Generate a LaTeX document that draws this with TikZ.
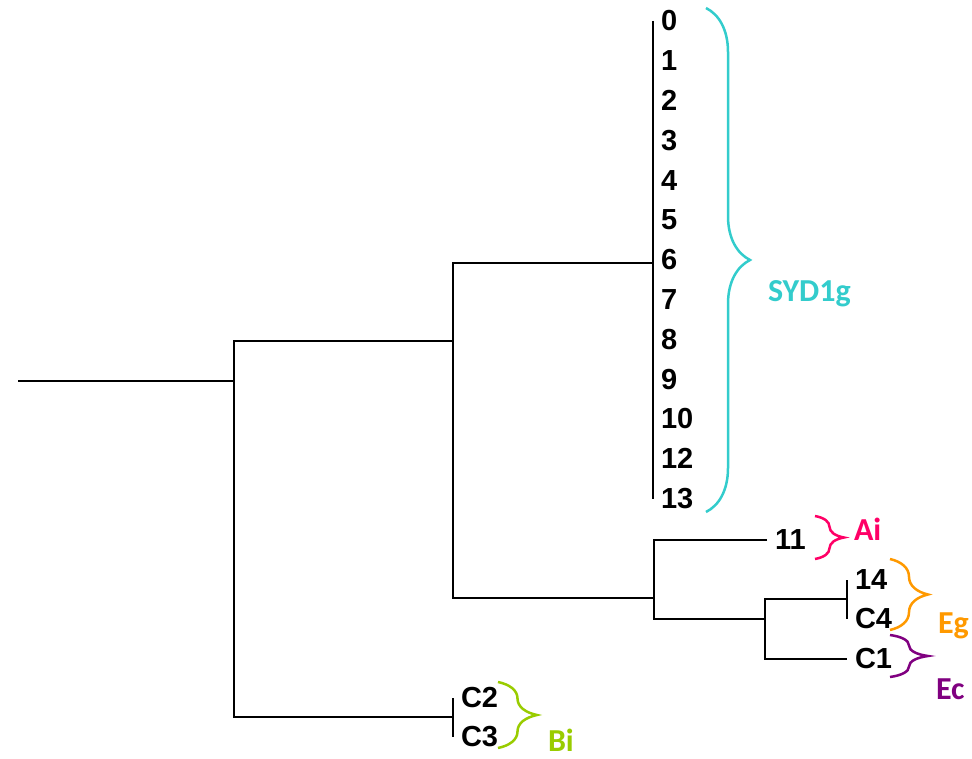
\documentclass[tikz,border=0pt]{standalone}
\usepackage{fontspec}
\setmainfont{Liberation Sans}
\newfontfamily\grpfont{Carlito}
\usetikzlibrary{decorations.pathreplacing}

\definecolor{sydcol}{RGB}{51,204,204}
\definecolor{aicol}{RGB}{255,0,102}
\definecolor{egcol}{RGB}{255,153,0}
\definecolor{eccol}{RGB}{128,0,128}
\definecolor{bicol}{RGB}{153,204,0}

\tikzset{
  leaf/.style={anchor=west, inner xsep=7pt, inner ysep=0pt, font=\fontsize{29}{29}\selectfont\bfseries},
  grp/.style={anchor=base west, inner sep=0pt, font=\grpfont\fontsize{32}{32}\selectfont\bfseries},
  brc/.style={decorate, decoration={brace, amplitude=#1}, line width=2.5pt}
}

\begin{document}
\begin{tikzpicture}[x=1pt, y=-1pt, line width=2pt]
  \useasboundingbox (0,0) rectangle (972,759);

  % Feuilles
  \foreach \lab [count=\i from 0] in {0,1,2,3,4,5,6,7,8,9,10,12,13}
    \node[leaf] (s\lab) at (653,21+39.8*\i) {\lab};
  \node[leaf] (t11) at (767,540) {11};
  \node[leaf] (t14) at (847,580) {14};
  \node[leaf] (tC4) at (847,619) {C4};
  \node[leaf] (tC1) at (847,659) {C1};
  \node[leaf] (tC2) at (453,698) {C2};
  \node[leaf] (tC3) at (453,737) {C3};

  % Noeuds internes
  \coordinate (root) at (18,381);
  \coordinate (j0) at (234,381);
  \coordinate (c1) at (453,341);
  \coordinate (c2) at (453,717);
  \coordinate (cS) at (653,263);
  \coordinate (cA) at (654,598);
  \coordinate (cB) at (765,619);
  \coordinate (cE) at (847,599);

  % Arbre
  \draw (root) -- (j0);
  \draw (c1) -| (j0) |- (c2);
  \draw (cS) -| (c1) |- (cA);
  \draw (s0.west) -- (s13.west);
  \draw (t11.west) -| (cA) |- (cB);
  \draw (cE) -| (cB) |- (tC1.west);
  \draw (t14.west) -- (tC4.west);
  \draw (tC2.west) -- (tC3.west);

  % Groupes
  \draw[brc=44, sydcol] (706,8) -- (706,512);
  \node[grp, text=sydcol] (gS) at (767,302) {SYD1g};
  \draw[brc=29, aicol] (815,516) -- (815,559);
  \node[grp, text=aicol] (gA) at (853,540) {Ai};
  \draw[brc=38, egcol] (890,559) -- (890,630);
  \node[grp, text=egcol] (gE) at (937,633) {Eg};
  \draw[brc=38, eccol] (890,635) -- (890,677);
  \node[grp, text=eccol] (gC) at (935,699) {Ec};
  \draw[brc=39, bicol] (498,682) -- (498,748);
  \node[grp, text=bicol] (gB) at (547,751) {Bi};
\end{tikzpicture}
\end{document}
